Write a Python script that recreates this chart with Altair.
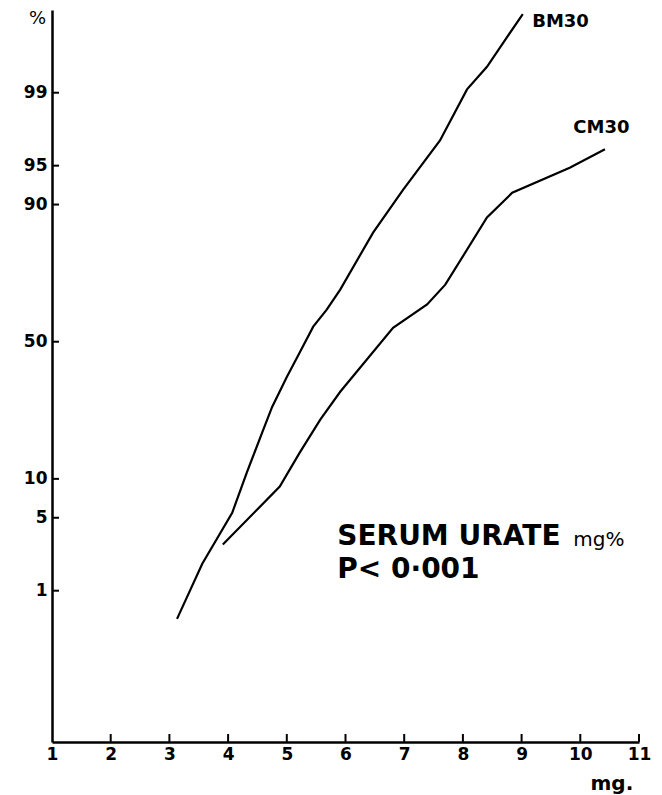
import altair as alt
import pandas as pd
from statistics import NormalDist

# ---- data ----
bm30_mg = [3.13, 3.56, 4.07, 4.32, 4.58, 4.75, 5.0, 5.22, 5.45, 5.68, 5.91, 6.47, 6.98, 7.61, 8.07, 8.41, 9.02]
bm30_pct = [0.48, 1.9, 5.5, 11.1, 19.8, 27.1, 37.1, 46.0, 55.6, 61.8, 68.7, 84.6, 92.2, 97.0, 99.08, 99.49, 99.89]

cm30_mg = [3.91, 4.88, 5.22, 5.57, 5.91, 6.81, 7.39, 7.70, 8.41, 8.84, 9.82, 10.42]
cm30_pct = [2.9, 8.8, 15.0, 23.3, 32.0, 55.2, 63.6, 70.3, 87.7, 91.8, 94.8, 96.4]

x_ticks = [1, 2, 3, 4, 5, 6, 7, 8, 9, 10, 11]
y_tick_pct = [1, 5, 10, 50, 90, 95, 99]
y_domain_pct = [0.0092, 99.903]

series_names = ["BM30", "CM30"]
series_label_mg = [9.18, 9.88]
series_label_pct = [99.86, 97.7]

big_text = ["SERUM URATE", "P< 0·001"]
big_text_mg = [5.86, 5.86]
big_text_pct = [3.4, 1.66]

small_text = ["mg%"]
small_text_mg = [9.88]
small_text_pct = [3.2]

# ---- probability (probit) scale helpers ----
nd = NormalDist()
y_tick_z = [nd.inv_cdf(p / 100) for p in y_tick_pct]
y_domain_z = [nd.inv_cdf(p / 100) for p in y_domain_pct]

lines_df = pd.DataFrame({
    "series": ["BM30"] * len(bm30_mg) + ["CM30"] * len(cm30_mg),
    "mg": bm30_mg + cm30_mg,
    "pct": bm30_pct + cm30_pct,
})
ser_df = pd.DataFrame({"text": series_names, "mg": series_label_mg, "pct": series_label_pct})
big_df = pd.DataFrame({"text": big_text, "mg": big_text_mg, "pct": big_text_pct})
small_df = pd.DataFrame({"text": small_text, "mg": small_text_mg, "pct": small_text_pct})
ytick_df = pd.DataFrame({"z": y_tick_z})
xtick_df = pd.DataFrame({"mg": x_ticks[1:]})

FONT = "DejaVu Sans"
W, H = 587, 732

x_enc = alt.X(
    "mg:Q",
    scale=alt.Scale(domain=[1, 11], nice=False, zero=False),
    axis=alt.Axis(
        values=x_ticks, grid=False, ticks=False, tickSize=0, labelPadding=4,
        labelFont=FONT, labelFontWeight="bold", labelFontSize=17, labelColor="black",
        domainColor="black", domainWidth=2.5, format="d",
        title="mg.", titleFont=FONT, titleFontWeight="bold", titleFontSize=20,
        titleX=538, titleY=41, titleAlign="left", titleBaseline="middle", titleAnchor="start",
        labelFlush=False,
    ),
)
y_enc = alt.Y(
    "z:Q",
    scale=alt.Scale(domain=y_domain_z, nice=False, zero=False),
    axis=alt.Axis(
        values=y_tick_z, grid=False, ticks=False, tickSize=0, labelPadding=5,
        labelExpr="round(cumulativeNormal(datum.value) * 100)",
        labelFont=FONT, labelFontWeight="bold", labelFontSize=17, labelColor="black",
        domainColor="black", domainWidth=2.5,
        title="%", titleAngle=0, titleX=-15, titleY=8, titleFont=FONT,
        titleFontWeight="normal", titleFontSize=18, titleAlign="center", titleBaseline="middle",
        labelFlush=False,
    ),
)

calc = "quantileNormal(datum.pct / 100)"

lines = alt.Chart(lines_df).transform_calculate(z=calc).mark_line(
    color="black", strokeWidth=2.2
).encode(x=x_enc, y=y_enc, detail="series:N")

yticks = alt.Chart(ytick_df).mark_rule(color="black", strokeWidth=2).encode(
    y=y_enc, x=alt.value(0), x2=alt.value(7)
)
xticks = alt.Chart(xtick_df).mark_rule(color="black", strokeWidth=2).encode(
    x=x_enc, y=alt.value(H), y2=alt.value(H - 8)
)

ser_text = alt.Chart(ser_df).transform_calculate(z=calc).mark_text(
    font=FONT, fontWeight="bold", fontSize=18, align="left", baseline="middle", color="black"
).encode(x=x_enc, y=y_enc, text="text:N")

big = alt.Chart(big_df).transform_calculate(z=calc).mark_text(
    font=FONT, fontWeight="bold", fontSize=28, align="left", baseline="middle", color="black"
).encode(x=x_enc, y=y_enc, text="text:N")

small = alt.Chart(small_df).transform_calculate(z=calc).mark_text(
    font=FONT, fontWeight="normal", fontSize=20, align="left", baseline="middle", color="black"
).encode(x=x_enc, y=y_enc, text="text:N")

chart = alt.layer(lines, yticks, xticks, ser_text, big, small).properties(
    width=W, height=H,
    background="white",
    autosize=alt.AutoSizeParams(type="none"),
    padding={"left": 44, "top": 2, "right": 15, "bottom": 53},
).configure_view(strokeWidth=0, stroke="transparent")

chart.save("out.html", embed_options={"renderer": "svg", "actions": False})
